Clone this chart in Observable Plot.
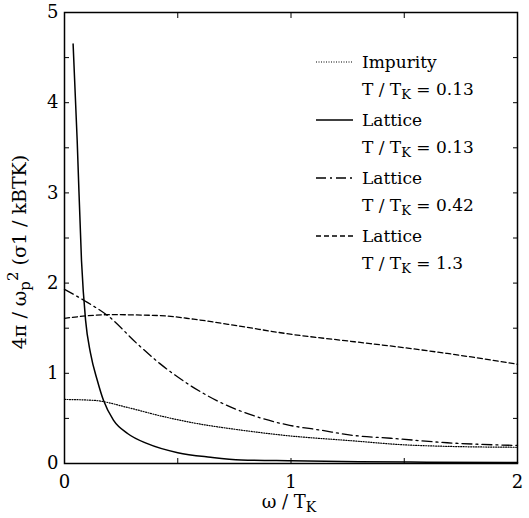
<!DOCTYPE html>
<html><head><meta charset="utf-8">
<script src="https://cdn.jsdelivr.net/npm/d3@7"></script>
<script src="https://cdn.jsdelivr.net/npm/@observablehq/plot@0.6"></script>
<style>body{margin:0;background:#fff}</style>
</head><body><div id="chart"></div>
<script>
// Data
const impurityX = [0, 0.13, 0.28, 0.42, 0.57, 0.78, 0.98, 1.28, 1.48, 1.69, 2.0];
const impurityY = [0.71, 0.70, 0.62, 0.53, 0.45, 0.37, 0.31, 0.25, 0.21, 0.19, 0.18];
const lattice013X = [0.038, 0.056, 0.075, 0.093, 0.115, 0.145, 0.172, 0.216, 0.28, 0.366, 0.5, 0.645, 0.78, 1.0, 1.3, 1.6, 2.0];
const lattice013Y = [4.65, 3.58, 2.25, 1.59, 1.22, 0.92, 0.70, 0.48, 0.33, 0.22, 0.12, 0.07, 0.04, 0.03, 0.02, 0.015, 0.01];
const lattice042X = [0, 0.085, 0.2, 0.32, 0.42, 0.54, 0.67, 0.835, 0.98, 1.13, 1.28, 1.44, 1.69, 2.0];
const lattice042Y = [1.93, 1.81, 1.62, 1.33, 1.11, 0.89, 0.70, 0.53, 0.43, 0.37, 0.31, 0.28, 0.23, 0.20];
const lattice13X = [0, 0.2, 0.42, 0.57, 0.78, 0.98, 1.28, 1.48, 1.69, 2.0];
const lattice13Y = [1.61, 1.65, 1.64, 1.60, 1.52, 1.44, 1.35, 1.29, 1.22, 1.10];

const seriesNames = ["Impurity", "Lattice", "Lattice", "Lattice"];
const seriesTemps = ["0.13", "0.13", "0.42", "1.3"];
const xTicks = [0, 0.5, 1, 1.5, 2];
const xLabels = [0, 1, 2];
const yTicks = [0, 0.5, 1, 1.5, 2, 2.5, 3, 3.5, 4, 4.5, 5];
const yLabels = [0, 1, 2, 3, 4, 5];

const dashes = ["1,1.5", null, "10,4,2,4", "5,3"];
const widths = [1.2, 1.5, 1.3, 1.3];
const allX = [impurityX, lattice013X, lattice042X, lattice13X];
const allY = [impurityY, lattice013Y, lattice042Y, lattice13Y];
const series = allX.map((xs, i) => xs.map((x, j) => ({x, y: allY[i][j]})));

const FONT = "DejaVu Serif";
const tickAxis = (f, anchor, ticks) => f({anchor, ticks, tickSize: -5, tickFormat: () => "", label: null, strokeWidth: 1});

const chart = Plot.plot({
  width: 529, height: 518,
  marginLeft: 64, marginRight: 12, marginTop: 12, marginBottom: 55,
  style: {fontSize: "18px", color: "black", background: "white"},
  x: {domain: [0, 2]},
  y: {domain: [0, 5]},
  marks: [
    ...series.map((d, i) => Plot.line(d, {x: "x", y: "y", curve: "monotone-x", stroke: "black",
      strokeWidth: widths[i], strokeDasharray: dashes[i]})),
    Plot.frame({stroke: "black", strokeWidth: 1.5}),
    tickAxis(Plot.axisX, "bottom", xTicks),
    tickAxis(Plot.axisX, "top", xTicks),
    tickAxis(Plot.axisY, "left", yTicks),
    tickAxis(Plot.axisY, "right", yTicks),
    Plot.axisX({anchor: "bottom", ticks: xLabels, tickSize: 0, tickPadding: 12, tickFormat: d3.format("d"), label: null}),
    Plot.axisY({anchor: "left", ticks: yLabels, tickSize: 0, tickPadding: 6, tickFormat: d3.format("d"), label: null})
  ]
});
document.getElementById("chart").append(chart);

const svg = d3.select(chart);
svg.attr("font-family", FONT);
// Axis titles with sub/superscripts
const xt = svg.append("text").attr("x", 289).attr("y", 508).attr("text-anchor", "middle")
  .attr("font-size", 18).attr("fill", "black");
xt.append("tspan").text("ω / T");
xt.append("tspan").attr("font-size", 14).attr("dy", 4).text("K");

const yt = svg.append("text").attr("transform", "translate(26,252) rotate(-90)").attr("text-anchor", "middle")
  .attr("font-size", 19).attr("fill", "black");
yt.append("tspan").text("4π / ω");
yt.append("tspan").attr("font-size", 15).attr("dy", 4).text("p");
yt.append("tspan").attr("font-size", 15).attr("dy", -12).text("2");
yt.append("tspan").attr("dy", 8).text(" (σ1 / kBTK)");

// Legend
const lg = svg.append("g").attr("font-size", 17).attr("fill", "black").attr("text-anchor", "start");
seriesNames.forEach((name, i) => {
  const y0 = 62 + i * 58;
  const ln = lg.append("line").attr("x1", 316).attr("x2", 353).attr("y1", y0).attr("y2", y0)
    .attr("stroke", "black").attr("stroke-width", widths[i]);
  if (dashes[i]) ln.attr("stroke-dasharray", dashes[i]);
  lg.append("text").attr("x", 362).attr("y", y0).attr("dy", "0.35em").text(name);
  const t = lg.append("text").attr("x", 362).attr("y", y0 + 27).attr("dy", "0.35em");
  t.append("tspan").text("T / T");
  t.append("tspan").attr("font-size", 13).attr("dy", 4).text("K");
  t.append("tspan").attr("dy", -4).text(" = " + seriesTemps[i]);
});
svg.selectAll("text").style("font-family", FONT);
</script>
</body></html>
